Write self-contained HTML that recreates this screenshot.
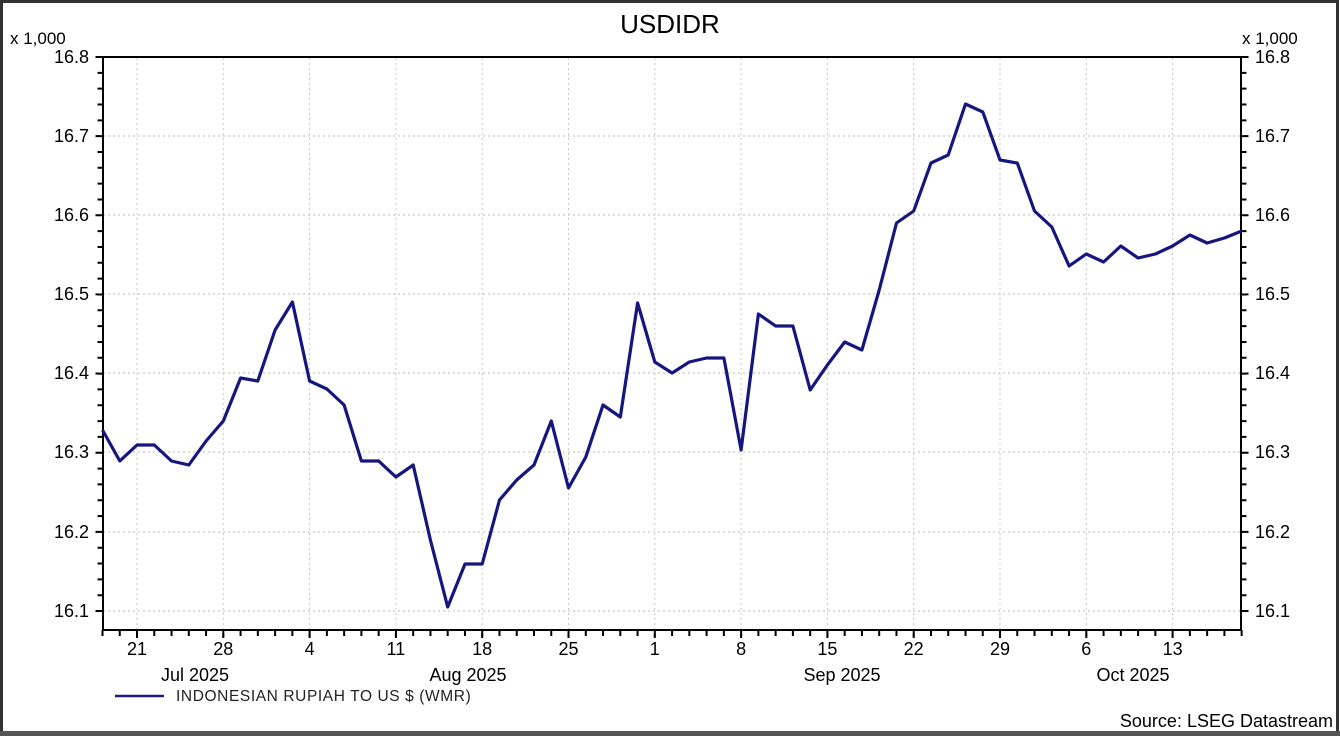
<!DOCTYPE html>
<html><head><meta charset="utf-8"><style>
html,body{margin:0;padding:0;background:#fff;}
svg{display:block;font-family:"Liberation Sans",Arial,sans-serif;}
</style></head><body>
<svg width="1340" height="736" viewBox="0 0 1340 736" xmlns="http://www.w3.org/2000/svg">
<rect x="0" y="0" width="1340" height="736" fill="#fff"/>
<rect x="1.5" y="1.5" width="1336" height="731" fill="none" stroke="#333" stroke-width="3"/>
<rect x="0" y="731" width="1340" height="5" fill="#555"/>
<text x="670" y="33" font-size="26" text-anchor="middle" fill="#000">USDIDR</text>
<text x="10" y="44" font-size="17" fill="#000">x 1,000</text>
<text x="1242" y="44" font-size="17" fill="#000">x 1,000</text>
<g stroke="#b8b8b8" stroke-width="1" stroke-dasharray="2,3">
<line x1="103" y1="57" x2="1241" y2="57"/><line x1="103" y1="136" x2="1241" y2="136"/>
<line x1="103" y1="215" x2="1241" y2="215"/><line x1="103" y1="294" x2="1241" y2="294"/>
<line x1="103" y1="373" x2="1241" y2="373"/><line x1="103" y1="452" x2="1241" y2="452"/>
<line x1="103" y1="532" x2="1241" y2="532"/><line x1="103" y1="611" x2="1241" y2="611"/>
</g>
<g stroke="#c8c8c8" stroke-width="1" stroke-dasharray="2,3">
<line x1="137" y1="58" x2="137" y2="629"/><line x1="223.3" y1="58" x2="223.3" y2="629"/>
<line x1="309.6" y1="58" x2="309.6" y2="629"/><line x1="395.9" y1="58" x2="395.9" y2="629"/>
<line x1="482.2" y1="58" x2="482.2" y2="629"/><line x1="568.5" y1="58" x2="568.5" y2="629"/>
<line x1="654.8" y1="58" x2="654.8" y2="629"/><line x1="741.1" y1="58" x2="741.1" y2="629"/>
<line x1="827.4" y1="58" x2="827.4" y2="629"/><line x1="913.7" y1="58" x2="913.7" y2="629"/>
<line x1="1000" y1="58" x2="1000" y2="629"/><line x1="1086.3" y1="58" x2="1086.3" y2="629"/>
<line x1="1172.6" y1="58" x2="1172.6" y2="629"/>
</g>
<rect x="103" y="57" width="1138" height="573" fill="none" stroke="#000" stroke-width="2"/>
<line x1="101.5" y1="633" x2="1243" y2="633" stroke="#000" stroke-width="6" stroke-dasharray="2,15.26"/>
<line x1="136" y1="636" x2="1243" y2="636" stroke="#000" stroke-width="4" stroke-dasharray="2,84.3"/>
<line x1="100" y1="56" x2="100" y2="613" stroke="#000" stroke-width="5" stroke-dasharray="2,13.83"/>
<line x1="1244" y1="56" x2="1244" y2="613" stroke="#000" stroke-width="5" stroke-dasharray="2,13.83"/>
<line x1="97" y1="56" x2="97" y2="613" stroke="#000" stroke-width="3" stroke-dasharray="2,77.14"/>
<line x1="1247" y1="56" x2="1247" y2="613" stroke="#000" stroke-width="3" stroke-dasharray="2,77.14"/>
<g font-size="18" fill="#000" text-anchor="end">
<text x="89" y="63">16.8</text><text x="89" y="142">16.7</text><text x="89" y="221">16.6</text>
<text x="89" y="300">16.5</text><text x="89" y="379">16.4</text><text x="89" y="458">16.3</text>
<text x="89" y="538">16.2</text><text x="89" y="617">16.1</text>
</g>
<g font-size="18" fill="#000" text-anchor="start">
<text x="1255" y="63">16.8</text><text x="1255" y="142">16.7</text><text x="1255" y="221">16.6</text>
<text x="1255" y="300">16.5</text><text x="1255" y="379">16.4</text><text x="1255" y="458">16.3</text>
<text x="1255" y="538">16.2</text><text x="1255" y="617">16.1</text>
</g>
<g font-size="18" fill="#000" text-anchor="middle">
<text x="137" y="655">21</text><text x="223.3" y="655">28</text><text x="309.6" y="655">4</text>
<text x="395.9" y="655">11</text><text x="482.2" y="655">18</text><text x="568.5" y="655">25</text>
<text x="654.8" y="655">1</text><text x="741.1" y="655">8</text><text x="827.4" y="655">15</text>
<text x="913.7" y="655">22</text><text x="1000" y="655">29</text><text x="1086.3" y="655">6</text>
<text x="1172.6" y="655">13</text>
</g>
<g font-size="18" fill="#000" text-anchor="middle">
<text x="195" y="681">Jul 2025</text><text x="468" y="681">Aug 2025</text>
<text x="842" y="681">Sep 2025</text><text x="1133" y="681">Oct 2025</text>
</g>
<line x1="115" y1="696" x2="164" y2="696" stroke="#1a1a80" stroke-width="2.5"/>
<text x="176" y="701" font-size="15.5" fill="#222" letter-spacing="0.6">INDONESIAN RUPIAH TO US $ (WMR)</text>
<text x="1333" y="727" font-size="18" fill="#000" text-anchor="end">Source: LSEG Datastream</text>
<polyline fill="none" stroke="#16167f" stroke-width="3.2" stroke-linejoin="round" points="102.5,430 119.8,461 137,445 154.3,445 171.5,461 188.8,465 206.1,441 223.3,421 240.6,378 257.8,381 275.1,330 292.4,302 309.6,381 326.9,389 344.1,405 361.4,461 378.7,461 395.9,477 413.2,465 430.4,540 447.7,607 465,564 482.2,564 499.5,500 516.7,480 534,465 551.3,421 568.5,488 585.8,457 603,405 620.3,417 637.6,303 654.8,362 672.1,373 689.3,362 706.6,358 723.9,358 741.1,450 758.4,314 775.6,326 792.9,326 810.2,390 827.4,365 844.7,342 861.9,350 879.2,290 896.5,223 913.7,211 931,163 948.2,155 965.5,104 982.8,112 1000,160 1017.3,163 1034.5,211 1051.8,227 1069.1,266 1086.3,254 1103.6,262 1120.8,246 1138.1,258 1155.4,254 1172.6,246 1189.9,235 1207.1,243 1224.4,238 1241.7,231"/>
</svg>
</body></html>
